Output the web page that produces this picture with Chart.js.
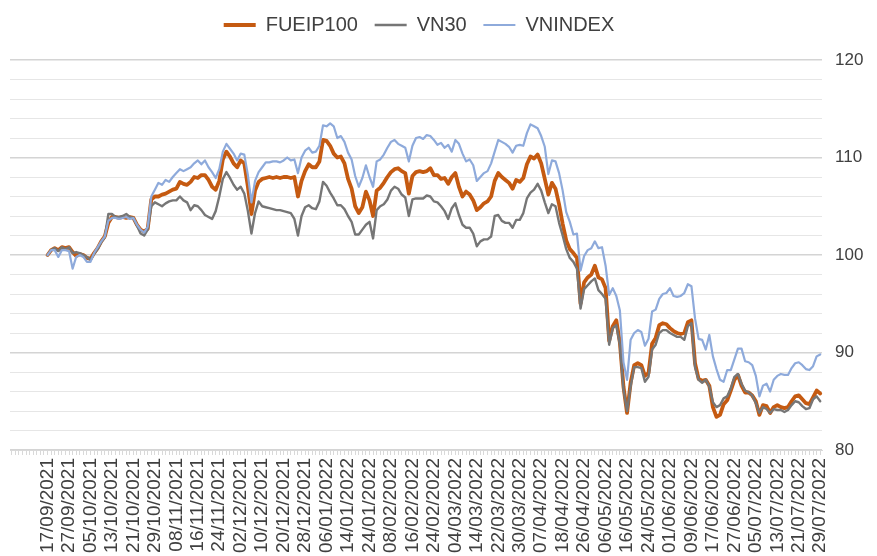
<!DOCTYPE html>
<html><head><meta charset="utf-8">
<script src="https://cdn.jsdelivr.net/npm/chart.js"></script>
<style>html,body{margin:0;padding:0;background:#fff;}#wrap{width:877px;height:556px;}</style>
</head><body><div id="wrap"><canvas id="c" width="877" height="556"></canvas></div>
<script>
const dates = [
"17/09/2021","20/09/2021","21/09/2021","22/09/2021","23/09/2021","24/09/2021","27/09/2021","28/09/2021","29/09/2021","30/09/2021",
"01/10/2021","04/10/2021","05/10/2021","06/10/2021","07/10/2021","08/10/2021","11/10/2021","12/10/2021","13/10/2021","14/10/2021","15/10/2021","18/10/2021","19/10/2021","20/10/2021","21/10/2021","22/10/2021","25/10/2021","26/10/2021","27/10/2021","28/10/2021","29/10/2021",
"01/11/2021","02/11/2021","03/11/2021","04/11/2021","05/11/2021","08/11/2021","09/11/2021","10/11/2021","11/11/2021","12/11/2021","15/11/2021","16/11/2021","17/11/2021","18/11/2021","19/11/2021","22/11/2021","23/11/2021","24/11/2021","25/11/2021","26/11/2021","29/11/2021","30/11/2021",
"01/12/2021","02/12/2021","03/12/2021","06/12/2021","07/12/2021","08/12/2021","09/12/2021","10/12/2021","13/12/2021","14/12/2021","15/12/2021","16/12/2021","17/12/2021","20/12/2021","21/12/2021","22/12/2021","23/12/2021","24/12/2021","27/12/2021","28/12/2021","29/12/2021","30/12/2021","31/12/2021",
"04/01/2022","05/01/2022","06/01/2022","07/01/2022","10/01/2022","11/01/2022","12/01/2022","13/01/2022","14/01/2022","17/01/2022","18/01/2022","19/01/2022","20/01/2022","21/01/2022","24/01/2022","25/01/2022","26/01/2022","27/01/2022","28/01/2022",
"07/02/2022","08/02/2022","09/02/2022","10/02/2022","11/02/2022","14/02/2022","15/02/2022","16/02/2022","17/02/2022","18/02/2022","21/02/2022","22/02/2022","23/02/2022","24/02/2022","25/02/2022","28/02/2022",
"01/03/2022","02/03/2022","03/03/2022","04/03/2022","07/03/2022","08/03/2022","09/03/2022","10/03/2022","11/03/2022","14/03/2022","15/03/2022","16/03/2022","17/03/2022","18/03/2022","21/03/2022","22/03/2022","23/03/2022","24/03/2022","25/03/2022","28/03/2022","29/03/2022","30/03/2022","31/03/2022",
"01/04/2022","04/04/2022","05/04/2022","06/04/2022","07/04/2022","08/04/2022","12/04/2022","13/04/2022","14/04/2022","15/04/2022","18/04/2022","19/04/2022","20/04/2022","21/04/2022","22/04/2022","25/04/2022","26/04/2022","27/04/2022","28/04/2022","29/04/2022",
"04/05/2022","05/05/2022","06/05/2022","09/05/2022","10/05/2022","11/05/2022","12/05/2022","13/05/2022","16/05/2022","17/05/2022","18/05/2022","19/05/2022","20/05/2022","23/05/2022","24/05/2022","25/05/2022","26/05/2022","27/05/2022","30/05/2022","31/05/2022",
"01/06/2022","02/06/2022","03/06/2022","06/06/2022","07/06/2022","08/06/2022","09/06/2022","10/06/2022","13/06/2022","14/06/2022","15/06/2022","16/06/2022","17/06/2022","20/06/2022","21/06/2022","22/06/2022","23/06/2022","24/06/2022","27/06/2022","28/06/2022","29/06/2022","30/06/2022",
"01/07/2022","04/07/2022","05/07/2022","06/07/2022","07/07/2022","08/07/2022","11/07/2022","12/07/2022","13/07/2022","14/07/2022","15/07/2022","18/07/2022","19/07/2022","20/07/2022","21/07/2022","22/07/2022","25/07/2022","26/07/2022","27/07/2022","28/07/2022","29/07/2022"
];

const fueip100 = [
100.0,100.5,100.7,100.5,100.8,100.7,100.8,100.3,99.9,100.1,
100.0,99.7,99.6,100.2,100.7,101.4,101.9,103.3,103.9,103.9,103.8,103.9,103.8,103.9,103.8,103.1,102.6,102.4,102.7,105.7,106.0,
106.0,106.2,106.3,106.5,106.7,106.8,107.5,107.3,107.2,107.5,108.0,107.9,108.2,108.2,107.7,107.0,106.7,107.6,109.8,110.6,110.1,109.4,
109.0,109.7,109.4,107.0,104.2,106.6,107.5,107.8,107.9,108.0,107.9,108.0,107.9,108.0,108.0,107.9,108.0,106.0,107.6,108.6,109.3,109.0,109.0,
109.6,111.8,111.7,111.2,110.4,110.0,110.1,109.4,107.8,106.8,105.0,104.3,104.9,106.5,105.6,104.0,106.6,106.9,107.4,
108.0,108.5,108.8,108.9,108.6,108.4,106.3,108.1,108.5,108.6,108.5,108.6,108.9,108.2,108.2,107.8,
107.9,107.3,108.0,108.4,107.0,106.0,106.5,106.2,105.6,104.6,104.9,105.3,105.5,106.0,107.6,108.4,108.0,107.7,107.4,106.8,107.7,107.5,107.9,
109.3,110.1,109.9,110.3,109.4,107.8,106.2,107.4,106.8,105.2,103.2,101.5,100.6,100.2,99.7,95.0,97.2,97.7,98.0,98.9,
97.7,97.5,96.6,91.2,92.7,93.3,91.0,86.5,83.8,86.9,88.7,88.9,88.7,87.6,87.9,90.9,91.5,92.8,93.0,92.9,
92.5,92.2,92.0,91.9,92.0,93.1,93.3,88.9,87.3,87.1,87.2,86.6,84.4,83.4,83.6,84.7,85.1,86.1,87.2,87.7,86.6,85.9,
85.9,85.6,85.0,83.6,84.6,84.5,83.8,84.4,84.6,84.4,84.3,84.4,85.0,85.5,85.6,85.2,84.8,84.7,85.4,86.1,85.8
];

const vn30 = [
100.0,100.5,100.7,100.4,100.8,100.6,100.8,100.2,100.3,100.2,
100.0,99.8,99.5,100.1,100.6,101.3,101.8,104.2,104.2,103.9,103.9,104.0,104.2,103.9,103.8,103.0,102.2,102.0,102.6,105.0,105.4,
105.2,105.0,105.3,105.5,105.6,105.6,106.0,105.6,105.4,104.6,105.1,105.0,104.6,104.1,103.9,103.7,104.5,106.0,107.8,108.5,107.9,107.2,
106.7,107.0,106.3,104.5,102.2,104.3,105.5,105.0,104.9,104.8,104.7,104.6,104.6,104.5,104.4,104.3,103.7,102.0,104.0,104.9,105.1,104.8,104.7,
105.5,107.5,107.1,106.4,105.8,105.1,105.1,104.7,104.0,103.4,102.1,102.1,102.6,103.1,103.4,101.7,104.6,105.0,105.2,
105.7,106.6,107.0,106.8,106.2,105.9,104.0,105.7,105.8,105.8,105.8,106.1,106.0,105.5,105.4,105.0,
104.5,103.7,104.8,105.3,104.1,103.1,102.8,102.8,102.2,100.9,101.4,101.6,101.6,101.9,104.0,104.1,103.5,103.3,103.3,102.8,103.6,103.6,104.3,
105.8,106.4,106.7,107.3,106.6,105.4,104.3,105.2,105.0,103.3,102.0,100.6,99.7,99.3,98.6,94.5,96.5,96.9,97.3,97.6,
96.4,96.0,95.5,90.8,92.5,92.8,90.8,86.2,84.0,86.5,88.5,88.5,88.4,87.0,87.5,90.3,90.8,92.0,92.3,92.3,
92.0,91.8,91.6,91.6,91.3,92.7,93.0,88.5,87.2,86.9,87.2,86.5,84.9,84.4,84.6,85.3,85.5,86.3,87.5,87.8,86.8,86.1,
85.9,85.6,84.8,83.8,84.4,84.2,83.8,84.2,84.1,84.1,83.9,84.1,84.6,85.0,84.9,84.5,84.2,84.3,85.2,85.5,85.0
];

const vnindex = [
100.0,100.5,100.5,99.8,100.5,100.5,100.4,98.6,99.8,100.0,
99.8,99.3,99.3,100.2,100.8,101.4,101.9,103.5,103.8,103.8,103.7,103.8,103.9,103.7,103.8,103.1,102.6,102.3,102.9,106.0,106.7,
107.4,107.2,107.7,107.5,108.0,108.4,108.8,108.6,108.8,109.0,109.4,109.7,109.3,109.7,109.0,108.5,107.9,108.8,110.6,111.4,110.9,110.4,
109.7,110.4,110.3,108.2,105.4,107.6,108.5,109.0,109.5,109.5,109.6,109.6,109.5,109.7,110.0,109.7,109.8,108.4,110.0,110.7,111.0,110.5,110.6,
111.2,113.3,113.2,113.5,113.2,112.0,112.2,111.6,110.5,109.8,108.1,107.0,107.9,109.2,108.0,107.0,109.6,109.8,110.3,
111.0,111.6,111.8,111.4,111.2,111.0,109.6,111.2,112.0,112.1,111.9,112.3,112.2,111.8,111.3,111.5,
111.0,111.3,110.6,111.8,111.4,110.4,109.6,109.8,109.2,107.6,108.0,108.4,108.6,109.4,110.6,111.8,111.6,111.4,111.1,110.5,111.2,111.3,111.2,
112.5,113.4,113.2,113.0,112.2,111.1,108.3,109.7,109.6,108.4,106.6,104.4,103.4,102.1,102.2,98.4,99.9,100.5,100.7,101.4,
100.7,100.8,98.9,95.9,96.6,95.8,94.3,89.0,87.2,91.3,92.0,92.3,92.1,90.7,91.4,94.2,94.4,95.5,96.0,96.1,
96.6,95.8,95.7,95.8,96.1,97.0,96.8,93.5,91.4,91.3,90.3,91.8,89.6,88.3,87.2,87.0,88.2,88.2,89.3,90.4,90.4,89.1,
89.0,88.7,87.6,85.5,86.6,86.8,86.0,87.2,87.6,87.8,87.7,87.7,88.4,88.9,89.0,88.7,88.3,88.2,88.6,89.6,89.8
];

const seriesNames = ["FUEIP100", "VN30", "VNINDEX"];
const yLabelValues = [80, 90, 100, 110, 120];
const LEAD = 10;        // empty categories before the first date
const LABEL_EVERY = 6;  // a date label every 6 trading days

const labels = new Array(LEAD).fill("").concat(dates);
const lead = arr => new Array(LEAD).fill(null).concat(arr);

const FONT = "'Liberation Sans', Arial, sans-serif";
const TXT = "#404040";

const legendTweak = {
  id: "legendTweak",
  afterInit(chart) {
    const lg = chart.legend;
    const origFit = lg.fit.bind(lg);
    lg.fit = function () { origFit(); this.height = 61.7; };
    const origDraw = lg.draw.bind(lg);
    lg.draw = function () {
      const ctx = chart.ctx;
      ctx.save();
      ctx.translate(3, 0);
      origDraw();
      ctx.restore();
    };
  }
};

new Chart(document.getElementById("c"), {
  type: "line",
  data: {
    labels: labels,
    datasets: [
      { label: seriesNames[0], data: lead(fueip100), borderColor: "#C55A11", backgroundColor: "#C55A11", borderWidth: 3.8, order: 3 },
      { label: seriesNames[1], data: lead(vn30), borderColor: "#767676", backgroundColor: "#767676", borderWidth: 2.4, order: 2 },
      { label: seriesNames[2], data: lead(vnindex), borderColor: "#8EAADB", backgroundColor: "#8EAADB", borderWidth: 2.2, order: 1 }
    ]
  },
  options: {
    responsive: false,
    animation: false,
    devicePixelRatio: 1,
    layout: { padding: { top: -1.7, left: 10, right: 0, bottom: 0 } },
    elements: { point: { radius: 0 }, line: { tension: 0, borderJoinStyle: "round", borderCapStyle: "round" } },
    plugins: {
      tooltip: { enabled: false },
      legend: {
        position: "top",
        fullSize: false,
        labels: {
          usePointStyle: true,
          pointStyle: "line",
          pointStyleWidth: 32,
          padding: 16.7,
          color: TXT,
          font: { family: FONT, size: 20 },
          sort: (a, b) => a.datasetIndex - b.datasetIndex
        }
      }
    },
    scales: {
      x: {
        type: "category",
        offset: true,
        grid: { drawOnChartArea: false, drawTicks: true, tickLength: 5, color: "#d9d9d9", lineWidth: 1 },
        border: { display: true, color: "#d9d9d9", width: 1 },
        ticks: {
          autoSkip: false,
          maxRotation: 90,
          minRotation: 90,
          padding: 3,
          color: TXT,
          font: { family: FONT, size: 19 },
          callback: function (val, idx) {
            const k = idx - LEAD;
            return (k >= 0 && k % LABEL_EVERY === 0) ? labels[idx] : "";
          }
        },
        afterFit(scale) { scale.height = 106; }
      },
      y: {
        position: "right",
        min: 80,
        max: 120,
        ticks: {
          stepSize: 2,
          autoSkip: false,
          maxTicksLimit: 100,
          padding: 13,
          color: TXT,
          font: { family: FONT, size: 17 },
          callback: v => yLabelValues.includes(v) ? String(v) : ""
        },
        grid: {
          drawTicks: false,
          color: c => (c.tick && c.tick.value % 10 === 0) ? "#d4d4d4" : "#e6e6e6",
          lineWidth: c => (c.tick && c.tick.value % 10 === 0) ? 1.4 : 1
        },
        border: { display: false },
        afterFit(scale) { scale.width = 55; }
      }
    }
  },
  plugins: [legendTweak]
});
</script>
</body></html>
